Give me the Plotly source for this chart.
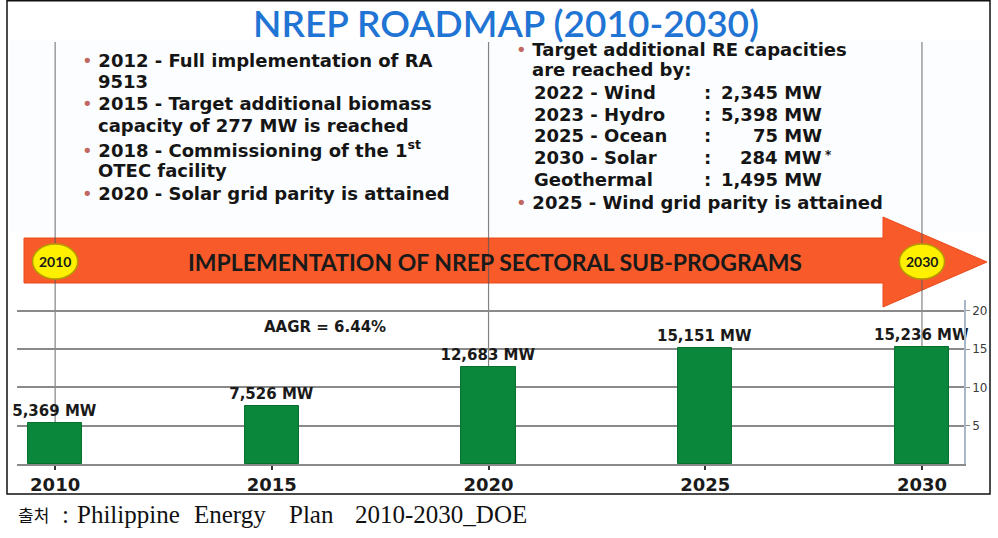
import plotly.graph_objects as go

# ---------------- data ----------------
years = [2010, 2015, 2020, 2025, 2030]
capacity_mw = [5369, 7526, 12683, 15151, 15236]
y_ticks = [5, 10, 15, 20]
year_ticks = ["2010", "2015", "2020", "2025", "2030"]

title_text = "NREP ROADMAP (2010-2030)"
arrow_text = "IMPLEMENTATION OF NREP SECTORAL SUB-PROGRAMS"
aagr_text = "AAGR = 6.44%"
start_year_label = "2010"
end_year_label = "2030"

left_lines = [
    "2012 - Full implementation of RA",
    "9513",
    "2015 - Target additional biomass",
    "capacity of 277 MW is reached",
    "2018 - Commissioning of the 1<sup>st</sup>",
    "OTEC facility",
    "2020 - Solar grid parity is attained",
]
left_bullet = [True, False, True, False, True, False, True]

right_head = ["Target additional RE capacities", "are reached by:"]
re_names = ["2022 - Wind", "2023 - Hydro", "2025 - Ocean", "2030 - Solar", "Geothermal"]
re_capacity_mw = [2345, 5398, 75, 284, 1495]
re_note = ["", "", "", "*", ""]
right_tail = "2025 - Wind grid parity is attained"

source_kr = "출처"
source_words = [":", "Philippine", "Energy", "Plan", "2010-2030_DOE"]

# ---------------- helpers ----------------
W, H = 998, 538
def px(x):
    return x / W
def py(y):
    return 1 - y / H

BOLD = "DejaVu Sans"
BULLET = "<span style='color:#c26660'>•</span> "
fig = go.Figure()

fig.add_trace(go.Bar(
    x=years,
    y=[v / 1000 for v in capacity_mw],
    width=1.25,
    marker=dict(color="#0a873b", line=dict(color="#07702f", width=1)),
    text=[f"<b>{v:,} MW</b>" for v in capacity_mw],
    textposition="outside",
    constraintext="none",
    textfont=dict(family=BOLD, size=15, color="#1a1a1a"),
    cliponaxis=False,
    hoverinfo="skip",
))

shapes = []
# faint tinted text background
shapes.append(dict(type="rect", xref="paper", yref="paper",
                   x0=px(9), x1=px(988), y0=py(232), y1=py(40),
                   line=dict(width=0), fillcolor="rgba(238,246,252,0.25)", layer="below"))
# outer frame
shapes.append(dict(type="rect", xref="paper", yref="paper",
                   x0=px(7), x1=px(990), y0=py(494), y1=py(0.8),
                   line=dict(color="#111", width=1.5), fillcolor="rgba(0,0,0,0)", layer="below"))
# arrow
shapes.append(dict(type="path", xref="paper", yref="paper",
                   path=(f"M {px(24)},{py(238)} L {px(883)},{py(238)} L {px(883)},{py(217)} "
                         f"L {px(987)},{py(262)} L {px(883)},{py(307)} L {px(883)},{py(283)} "
                         f"L {px(24)},{py(283)} Z"),
                   fillcolor="#f85a29", line=dict(color="#ec4a1c", width=1), layer="below"))
# vertical timeline markers
for yr in [2010, 2020, 2030]:
    shapes.append(dict(type="line", xref="x", yref="paper",
                       x0=yr, x1=yr, y0=py(42), y1=py(464),
                       line=dict(color="rgba(90,90,90,0.75)", width=1.2), layer="below"))
# yellow circles
for yr in [2010, 2030]:
    shapes.append(dict(type="circle", xref="x", yref="paper",
                       x0=yr - 0.52, x1=yr + 0.52, y0=py(279), y1=py(244),
                       fillcolor="#fff000", line=dict(color="#b59a00", width=1.5), layer="above"))

ann = []
ann.append(dict(x=px(506), y=py(22), xref="paper", yref="paper", text=title_text,
                showarrow=False, font=dict(family="Lato", size=37, color="#1f74d4", weight=600),
                xanchor="center", yanchor="middle"))
ann.append(dict(x=px(495), y=py(262), xref="paper", yref="paper", text=f"<b>{arrow_text}</b>",
                showarrow=False, font=dict(family="Lato", size=23, color="#1a1a1a"),
                xanchor="center", yanchor="middle"))
for yr, lab in zip([2010, 2030], [start_year_label, end_year_label]):
    ann.append(dict(x=yr, y=py(261), xref="x", yref="paper", text=f"<b>{lab}</b>",
                    showarrow=False, font=dict(family="Lato", size=14, color="#1a1a1a"),
                    xanchor="center", yanchor="middle"))
ann.append(dict(x=px(325), y=py(327), xref="paper", yref="paper", text=f"<b>{aagr_text}</b>",
                showarrow=False, font=dict(family=BOLD, size=15, color="#1a1a1a"),
                xanchor="center", yanchor="middle"))

# left text block
left_y = [60, 82, 104, 126, 149, 171, 193]
for t, b, yy in zip(left_lines, left_bullet, left_y):
    if b:
        ann.append(dict(x=px(80), y=py(yy), xref="paper", yref="paper",
                        text=f"{BULLET}<b>{t}</b>",
                        showarrow=False, font=dict(family=BOLD, size=18, color="#151515"),
                        xanchor="left", yanchor="middle"))
    else:
        ann.append(dict(x=px(96), y=py(yy), xref="paper", yref="paper", text=f"<b>{t}</b>",
                        showarrow=False, font=dict(family=BOLD, size=18, color="#151515"),
                        xanchor="left", yanchor="middle"))

# right text block
right_y = [49, 70, 92, 114, 136, 158, 180, 202]
ann.append(dict(x=px(514), y=py(right_y[0]), xref="paper", yref="paper",
                text=f"{BULLET}<b>{right_head[0]}</b>",
                showarrow=False, font=dict(family=BOLD, size=18, color="#151515"),
                xanchor="left", yanchor="middle"))
ann.append(dict(x=px(530), y=py(right_y[1]), xref="paper", yref="paper",
                text=f"<b>{right_head[1]}</b>",
                showarrow=False, font=dict(family=BOLD, size=18, color="#151515"),
                xanchor="left", yanchor="middle"))
for j, (nm, v, note) in enumerate(zip(re_names, re_capacity_mw, re_note)):
    yy = right_y[2 + j]
    ann.append(dict(x=px(532), y=py(yy), xref="paper", yref="paper", text=f"<b>{nm}</b>",
                    showarrow=False, font=dict(family=BOLD, size=18, color="#151515"),
                    xanchor="left", yanchor="middle"))
    ann.append(dict(x=px(702), y=py(yy), xref="paper", yref="paper", text="<b>:</b>",
                    showarrow=False, font=dict(family=BOLD, size=18, color="#151515"),
                    xanchor="left", yanchor="middle"))
    ann.append(dict(x=px(824), y=py(yy), xref="paper", yref="paper", text=f"<b>{v:,} MW</b>",
                    showarrow=False, font=dict(family=BOLD, size=18, color="#151515"),
                    xanchor="right", yanchor="middle"))
    if note:
        ann.append(dict(x=px(823), y=py(yy - 3), xref="paper", yref="paper", text=f"<b>{note}</b>",
                        showarrow=False, font=dict(family=BOLD, size=12, color="#151515"),
                        xanchor="left", yanchor="middle"))
ann.append(dict(x=px(514), y=py(right_y[-1]), xref="paper", yref="paper",
                text=f"{BULLET}<b>{right_tail}</b>",
                showarrow=False, font=dict(family=BOLD, size=18, color="#151515"),
                xanchor="left", yanchor="middle"))

# source line
ann.append(dict(x=px(16), y=py(514), xref="paper", yref="paper", text=source_kr,
                showarrow=False, font=dict(family="Noto Sans CJK KR", size=17, color="#111"),
                xanchor="left", yanchor="middle"))
for wd, xs in zip(source_words, [60, 75, 192, 287, 353]):
    ann.append(dict(x=px(xs), y=py(514), xref="paper", yref="paper", text=wd,
                    showarrow=False, font=dict(family="Liberation Serif", size=25, color="#111"),
                    xanchor="left", yanchor="middle"))

fig.update_layout(
    width=W, height=H,
    margin=dict(l=0, r=0, t=0, b=0),
    paper_bgcolor="white",
    plot_bgcolor="rgba(0,0,0,0)",
    showlegend=False,
    shapes=shapes,
    annotations=ann,
    xaxis=dict(domain=[px(17), px(964)], range=[2009.12, 2030.97],
               tickvals=years, ticktext=[f"<b>{t}</b>" for t in year_ticks],
               tickfont=dict(family=BOLD, size=18, color="#1a1a1a"),
               ticks="outside", ticklen=4, tickwidth=2, tickcolor="#333",
               showgrid=False, showline=True, linecolor="#8a8a8a", linewidth=1.5,
               zeroline=False, fixedrange=True),
    yaxis=dict(domain=[py(464), py(300)], range=[0, 21.4], side="right",
               tickvals=y_ticks, ticktext=[str(t) for t in y_ticks],
               tickfont=dict(family="DejaVu Sans", size=12, color="#3a3a3a"),
               ticks="outside", ticklen=4, tickcolor="#8a8a8a",
               showgrid=True, gridcolor="#8a8a8a", gridwidth=1.5,
               showline=True, linecolor="#a8b8c8", linewidth=1.5,
               zeroline=False, fixedrange=True),
    bargap=0,
)

fig.write_html(
    "out.html",
    config={"displayModeBar": False},
    post_script="document.body.style.margin='0px';document.body.style.padding='0px';"
                "document.body.style.overflow='hidden';document.documentElement.style.overflow='hidden';",
)
